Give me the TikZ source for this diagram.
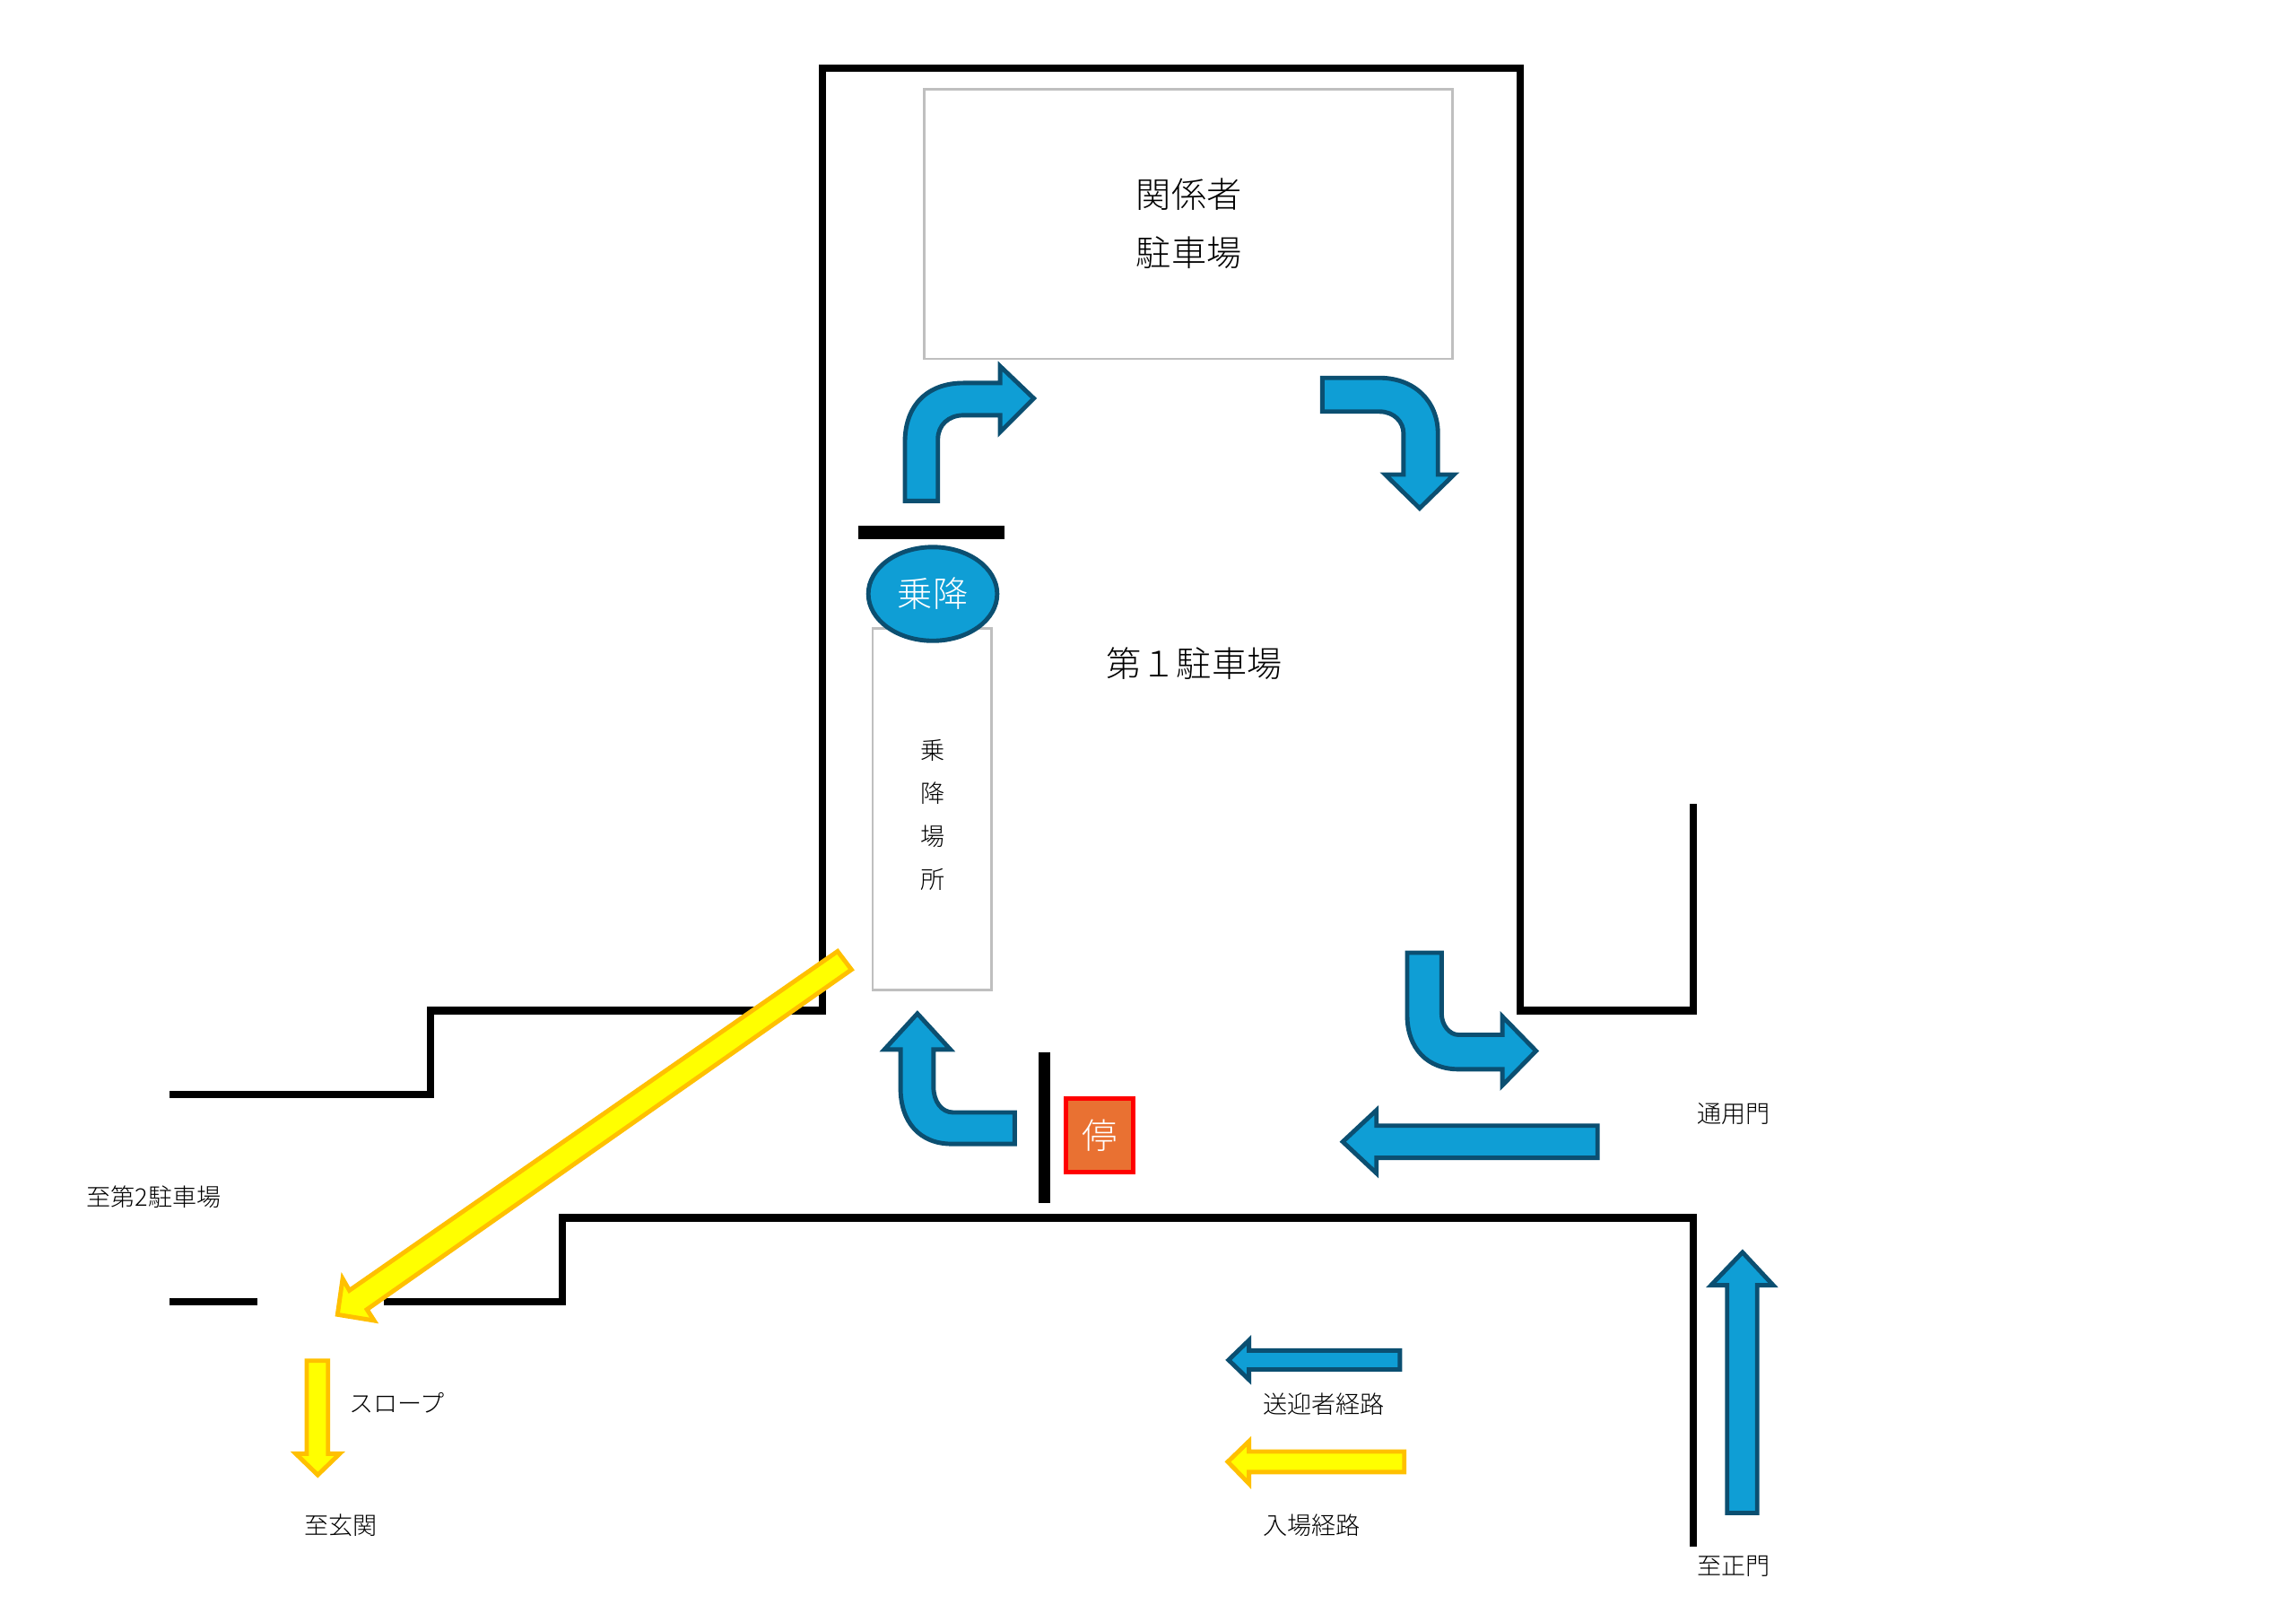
\documentclass[tikz,border=0pt]{standalone}
\usepackage{fontspec}
\usetikzlibrary{shapes.geometric}
\setmainfont{Noto Sans CJK JP Light}
\definecolor{routeblue}{HTML}{0F9ED5}
\definecolor{routeedge}{HTML}{0B4F71}
\definecolor{routeyellow}{HTML}{FFFF00}
\definecolor{yellowedge}{HTML}{FFC000}
\definecolor{boxgray}{HTML}{BFBFBF}
\definecolor{stoporange}{HTML}{E97132}
\tikzset{
  wall/.style={draw=black,line width=5pt,line join=miter,line cap=butt},
  bar/.style={draw=black,line cap=butt},
  bluearrow/.style={draw=routeedge,fill=routeblue,line width=3pt,line join=miter},
  yellowarrow/.style={draw=yellowedge,fill=routeyellow,line width=3pt,line join=miter},
  area/.style={draw=boxgray,line width=1.6pt,fill=white},
  lab/.style={inner sep=0pt,text=black},
  small/.style={lab,font=\fontsize{16.6}{20}\selectfont},
  large/.style={lab,font=\fontsize{24}{28}\selectfont},
}
\begin{document}
\begin{tikzpicture}[x=1pt,y=-1pt]
\useasboundingbox (0,0) rectangle (1568,1107.4);
\fill[white] (0,0) rectangle (1568,1107.4);
% walls
\draw[wall] (1156.5,549) -- (1156.5,690) -- (1038,690) -- (1038,46.5) -- (561.5,46.5) -- (561.5,690) -- (294,690) -- (294,747) -- (116,747);
\draw[wall] (116,888.5) -- (176,888.5);
\draw[wall] (262,888.5) -- (384,888.5) -- (384,831.5) -- (1156.5,831.5) -- (1156.5,1056);
% areas
\node[area,minimum width=361pt,minimum height=184pt,inner sep=0pt] (staff) at (811.5,153) {};
\node[large] (staffa) at (812,132.5) {関係者};
\node[large] (staffb) at (812,172.5) {駐車場};
\node[area,minimum width=81pt,minimum height=247pt,inner sep=0pt] (zone) at (636.5,552.5) {};
\foreach \n/\t/\yy in {za/乗/512.5,zb/降/541.5,zc/場/571,zd/所/600.5}
  \node[small] (\n) at (637,\yy) {\t};
\node[large] (lot) at (815.5,453) {第１駐車場};
% ride marker
\draw[bar,line width=9pt] (586,363.5) -- (686,363.5);
\node[ellipse,draw=routeedge,fill=routeblue,line width=3pt,minimum width=88pt,minimum height=64pt,inner sep=0pt,text=white,font=\fontsize{24}{28}\selectfont] (ride) at (637,405.5) {乗降};
% stop
\draw[bar,line width=8pt] (713.5,718.5) -- (713.5,821.5);
\node[draw=red,fill=stoporange,line width=3pt,minimum width=46pt,minimum height=50pt,inner sep=0pt,text=white,font=\fontsize{24}{28}\selectfont] (stop) at (751,775) {停};
% blue arrows
\draw[bluearrow] (618,342) -- (618,302) .. controls (618,276) and (634,261.5) .. (658,261.5) -- (683,261.5) -- (683,250) -- (706,272) -- (683,295) -- (683,283.5) -- (658,283.5) .. controls (648,283.5) and (640.5,290) .. (640.5,300) -- (640.5,342) -- cycle;
\draw[bluearrow] (903,258) -- (942,258) .. controls (966,258) and (982,274) .. (982,296) -- (982,324) -- (993,324) -- (969.5,347) -- (946,324) -- (958.5,324) -- (958.5,296) .. controls (958.5,288) and (952,281) .. (942,281) -- (903,281) -- cycle;
\draw[bluearrow] (961,650.5) -- (961,693) .. controls (961,716) and (975,730) .. (996,730) -- (1026,730) -- (1026,741) -- (1049,717.5) -- (1026,694) -- (1026,706.5) -- (996,706.5) .. controls (990,706.5) and (984.5,700) .. (984.5,692) -- (984.5,650.5) -- cycle;
\draw[bluearrow] (1091,768.5) -- (940,768.5) -- (940,758) -- (917,779.5) -- (940,801) -- (940,790.5) -- (1091,790.5) -- cycle;
\draw[bluearrow] (693,759.5) -- (651,759.5) .. controls (643,759.5) and (637.5,752) .. (637.5,742) -- (637.5,716.5) -- (649,716.5) -- (626.5,692) -- (604,716.5) -- (615,716.5) -- (615,743) .. controls (615,766) and (628,781) .. (650,781) -- (693,781) -- cycle;
\draw[bluearrow] (1179.5,1033) -- (1179.5,877.5) -- (1168.5,877.5) -- (1190,855) -- (1211,877.5) -- (1200,877.5) -- (1200,1033) -- cycle;
\draw[bluearrow] (956,922) -- (853,922) -- (853,915) -- (839,928.5) -- (853,942) -- (853,935) -- (956,935) -- cycle;
% yellow arrows
\draw[yellowarrow] (572,649.5) -- (581.5,662) -- (250.6,894) -- (255.5,901.6) -- (230.5,897.5) -- (234,873) -- (238.6,881) -- cycle;
\draw[yellowarrow] (209.5,929) -- (224,929) -- (224,992.5) -- (232,992.5) -- (217,1007) -- (202,992.5) -- (209.5,992.5) -- cycle;
\draw[yellowarrow] (959,991) -- (853,991) -- (853,984) -- (838.5,998) -- (853,1013) -- (853,1005) -- (959,1005) -- cycle;
% labels
\node[small] (second) at (105,817) {至第2駐車場};
\node[small] (slope) at (271,958) {スロープ};
\node[small] (entr) at (233,1041.5) {至玄関};
\node[small] (gatea) at (1184,760.5) {通用門};
\node[small] (gateb) at (1184,1069.5) {至正門};
\node[small] (lega) at (904,958.5) {送迎者経路};
\node[small] (legb) at (896,1041.5) {入場経路};
\end{tikzpicture}
\end{document}
